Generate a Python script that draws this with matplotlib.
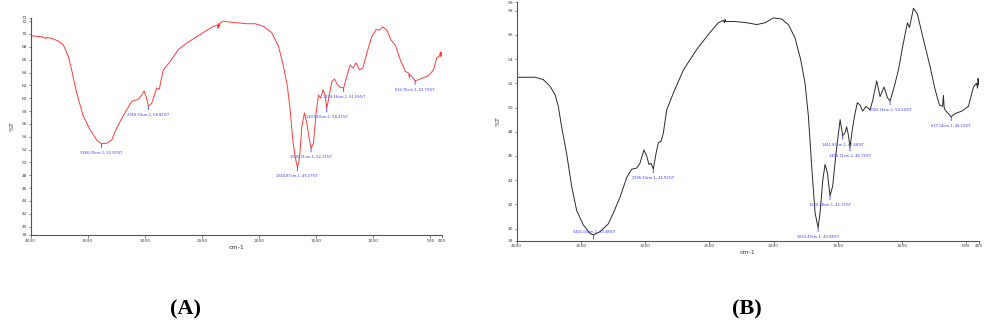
import matplotlib
import matplotlib.pyplot as plt

matplotlib.use("Agg")

# spectrum A (red trace): wavenumber (cm-1) and transmittance (%T)
wn_a = [4000, 3900, 3862, 3858, 3800, 3758, 3714, 3670, 3641, 3597, 3539, 3480, 3422,
        3380.05, 3334, 3290, 3261, 3217, 3159, 3115, 3086, 3057, 3028, 3007, 2990,
        2969.74, 2955, 2940, 2920, 2896, 2873, 2861, 2838, 2779, 2706, 2633, 2517,
        2400, 2365, 2360, 2356, 2352, 2340, 2318, 2225, 2108, 2035, 1962, 1889, 1830,
        1787, 1752, 1728, 1705, 1685, 1664.87, 1650, 1640, 1626, 1603, 1582, 1559,
        1545.31, 1524, 1501, 1480, 1460, 1442, 1422, 1407.80, 1387, 1363, 1340, 1314,
        1290, 1259.46, 1232, 1203, 1179, 1150, 1121, 1092, 1057, 1013, 975, 946, 917,
        881, 846, 808, 764, 720, 690, 684, 680, 660, 633.76, 600, 575, 517, 473, 444,
        420, 412, 408, 405, 400]
t_a = [69.74, 69.55, 69.3, 69.5, 69.2, 68.9, 68.3, 66.5, 64.4, 60.8, 57.2, 55.1, 53.5,
       52.90, 53.0, 53.5, 54.8, 56.4, 58.2, 59.5, 59.7, 59.8, 60.5, 61.1, 60.3,
       58.81, 59.0, 59.2, 60.3, 61.6, 61.4, 62.6, 64.4, 65.7, 67.6, 68.6, 69.9,
       71.2, 71.4, 70.9, 71.6, 71.0, 71.7, 72.0, 71.8, 71.6, 71.6, 71.2, 70.2, 68.1,
       65.0, 61.8, 58.2, 53.5, 50.9, 49.27, 50.2, 52.0, 55.6, 57.7, 56.1, 53.5,
       52.21, 53.0, 57.7, 60.5, 60.0, 61.3, 60.5, 58.41, 60.3, 62.6, 63.0, 62.1,
       61.7, 61.59, 63.4, 65.2, 64.7, 65.5, 64.4, 64.7, 67.0, 69.6, 70.7, 70.6, 71.1,
       70.6, 69.1, 68.3, 66.0, 64.2, 63.9, 63.2, 63.7, 63.3, 62.73, 62.9, 63.1, 63.5, 64.4, 66.3,
       66.6, 67.2, 66.5, 67.1, 66.8]

# spectrum B (black trace)
wn_b = [4000, 3900, 3857, 3792, 3740, 3701, 3676, 3650, 3611, 3572, 3533, 3481, 3429,
        3401.04, 3351, 3286, 3247, 3195, 3144, 3105, 3066, 3040, 3009, 2988, 2970,
        2954, 2936.33, 2915, 2897, 2876, 2858, 2832, 2780, 2702, 2598, 2495, 2430,
        2390, 2382, 2378, 2372, 2300, 2209, 2131, 2066, 2001, 1937, 1885, 1833, 1789,
        1755, 1729, 1703, 1677, 1653.43, 1638, 1617, 1599, 1581, 1560.48, 1540, 1514,
        1482, 1461.87, 1444, 1431, 1418, 1405.11, 1384, 1366, 1348, 1327, 1306, 1280,
        1249, 1228, 1197, 1171, 1140, 1113, 1093.16, 1060, 1028, 994, 958, 942, 911,
        880, 833, 782, 743, 709, 684, 678, 672, 665, 617.14, 587, 535, 483, 444, 420,
        412, 408, 404, 400]
t_b = [52.49, 52.5, 52.5, 52.3, 51.75, 51.06, 50.1, 48.4, 46.2, 43.5, 41.5, 40.3, 39.6,
       39.48, 39.75, 40.4, 41.3, 42.6, 44.2, 44.9, 45.0, 45.4, 46.5, 46.0, 45.3,
       45.4, 44.91, 46.2, 47.1, 47.2, 47.9, 49.8, 51.2, 53.1, 54.8, 56.2, 57.0,
       57.2, 57.0, 57.3, 57.1, 57.1, 57.0, 56.85, 57.0, 57.4, 57.3, 56.85, 55.75, 53.96,
       52.0, 49.3, 45.1, 41.3, 40.08, 41.3, 44.0, 45.3, 44.6, 42.71, 43.5, 46.2,
       49.0, 47.68, 47.9, 48.4, 47.75, 46.72, 48.4, 49.5, 50.4, 50.2, 49.7, 50.1,
       49.8, 50.6, 52.2, 50.9, 51.7, 50.8, 50.54, 51.75, 53.1, 55.1, 57.0, 56.6, 58.2,
       57.7, 55.6, 53.4, 51.5, 50.2, 50.1, 51.0, 50.0, 49.8, 49.23, 49.5, 49.7, 50.1, 51.7, 52.0,
       51.6, 52.4, 51.9, 52.2]

# labelled bands
peaks_a_wn = [3380.05, 2969.74, 1664.87, 1545.31, 1407.80, 1259.46, 633.76]
peaks_a_t = [52.90, 58.81, 49.27, 52.21, 58.41, 61.59, 62.73]
peaks_b_wn = [3401.04, 2936.33, 1653.43, 1560.48, 1461.87, 1405.11, 1093.16, 617.14]
peaks_b_t = [39.48, 44.91, 40.08, 42.71, 47.68, 46.72, 50.54, 49.23]

x_ticks = [4000, 3500, 3000, 2500, 2000, 1500, 1000, 500, 400]
x_tick_labels = ["4000", "3500", "3000", "2500", "2000", "1500", "1000", "500", "400"]

ylim_a = (38.7, 72.5)
ylim_b = (39.0, 58.7)

LABEL_BLUE = "#3a3aff"
AXIS_GREY = "#555555"


def style_axes(ax, ylim):
    ax.set_xlim(4000, 400)
    ax.set_ylim(*ylim)
    for side in ("top", "right"):
        ax.spines[side].set_visible(False)
    for side in ("left", "bottom"):
        ax.spines[side].set_color(AXIS_GREY)
        ax.spines[side].set_linewidth(0.8)
    ax.set_xticks(x_ticks)
    ax.set_xticklabels(x_tick_labels)
    lo, hi = ylim
    yt = list(range(40, int(hi) + 1, 2))
    yt = [lo] + yt + [hi]
    ax.set_yticks(yt)
    ax.set_yticklabels([f"{v:.0f}" for v in yt])
    ax.tick_params(axis="both", labelsize=3.2, length=1.8, width=0.5,
                   color=AXIS_GREY, pad=0.8, labelcolor="#444444")
    ax.set_xlabel("cm-1", fontsize=4.5, labelpad=1.5, color="#333333")
    ax.set_ylabel("%T", fontsize=4.5, labelpad=5, color="#333333")


def label_peaks(ax, wns, ts, above=()):
    for i, (w, t) in enumerate(zip(wns, ts)):
        text = f"{w:.2f}cm-1, {t:.2f}%T"
        if i in above:
            ax.annotate("", xy=(w, t), xytext=(0, -3), textcoords="offset points",
                        arrowprops=dict(arrowstyle="-", color=LABEL_BLUE, lw=0.6,
                                        shrinkA=0, shrinkB=0))
            ax.annotate(text, xy=(w, t), xytext=(0, 0.5), textcoords="offset points",
                        ha="center", va="bottom", fontsize=2.6, color=LABEL_BLUE)
        else:
            ax.annotate(text, xy=(w, t), xytext=(0, -5), textcoords="offset points",
                        ha="center", va="top", fontsize=2.6, color=LABEL_BLUE,
                        arrowprops=dict(arrowstyle="-", color=LABEL_BLUE, lw=0.6,
                                        shrinkA=0.3, shrinkB=0))


fig = plt.figure(figsize=(9.86, 3.36), dpi=100)

ax_a = fig.add_axes([0.0311, 0.3006, 0.417, 0.646])
ax_a.plot(wn_a, t_a, color="#ff3b3b", lw=0.7)
style_axes(ax_a, ylim_a)
label_peaks(ax_a, peaks_a_wn, peaks_a_t)

ax_b = fig.add_axes([0.524, 0.2836, 0.469, 0.710])
ax_b.plot(wn_b, t_b, color="#2a2a2a", lw=0.7)
style_axes(ax_b, ylim_b)
label_peaks(ax_b, peaks_b_wn, peaks_b_t, above=(0,))

fig.text(0.188, 0.078, "(A)", fontsize=16, fontweight="bold",
         family="Liberation Serif", ha="center", va="center")
fig.text(0.757, 0.078, "(B)", fontsize=16, fontweight="bold",
         family="Liberation Serif", ha="center", va="center")

fig.savefig("out.png", dpi=100)
